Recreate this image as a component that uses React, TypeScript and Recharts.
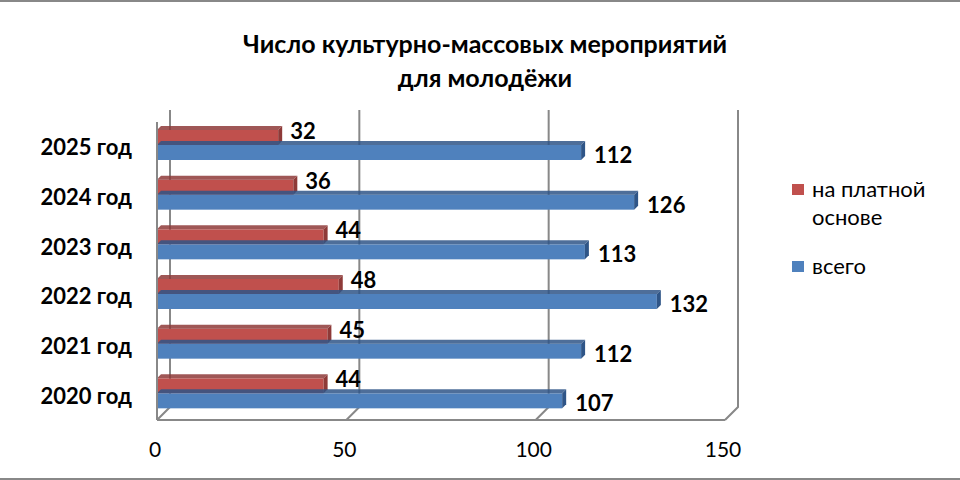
import React from "react";
import { BarChart, Bar, XAxis, YAxis, CartesianGrid, Legend, LabelList } from "recharts";

const categories = ["2025 год", "2024 год", "2023 год", "2022 год", "2021 год", "2020 год"];
const paidValues = [32, 36, 44, 48, 45, 44];
const totalValues = [112, 126, 113, 132, 112, 107];
const xTicks = [0, 50, 100, 150];
const seriesNames = ["на платной основе", "всего"];

const data = categories.map((c, i) => ({ name: c, paid: paidValues[i], total: totalValues[i] }));

const FONT = "Lato, 'Open Sans', sans-serif";
const RED = "#C0504D";
const RED_DARK = "#8E3A38";
const BLUE = "#4F81BD";
const BLUE_DARK = "#2F5587";
const LIFT = 2;

const makeShape = (fill: string, dark: string) => (props: any) => {
  const { x, width, height } = props;
  const y = props.y - LIFT;
  const d = 4;
  return (
    <g>
      <rect x={x} y={y} width={width} height={height} fill={fill} />
      <polygon
        points={`${x},${y} ${x + d},${y - d} ${x + width + d},${y - d} ${x + width},${y}`}
        fill={dark}
        opacity={0.85}
      />
      <polygon
        points={`${x + width},${y} ${x + width + d},${y - d} ${x + width + d},${y + height - d} ${x + width},${y + height}`}
        fill={dark}
      />
    </g>
  );
};

const GridLine = (props: any) => {
  const { x1, y1, y2 } = props;
  const dx = 13;
  const dy = 13;
  return (
    <polyline
      key={props.key ?? `g-${x1}`}
      points={`${x1 + dx},${y1 - 12} ${x1 + dx},${y2 - dy} ${x1},${y2}`}
      fill="none"
      stroke="#888"
      strokeWidth={2}
    />
  );
};

const YTick = (props: any) => {
  const { y, payload } = props;
  return (
    <text x={132} y={y} textAnchor="end" dominantBaseline="central" fontFamily={FONT} fontWeight={700} fontSize={22} fill="#000">
      {payload.value}
    </text>
  );
};

const XTick = (props: any) => {
  const { x, y, payload } = props;
  return (
    <text x={x - 2} y={y + 20} textAnchor="middle" dominantBaseline="central" fontFamily={FONT} fontSize={21} fill="#000">
      {payload.value}
    </text>
  );
};

const PaidLabel = (props: any) => {
  const { x, y, width, height, value } = props;
  return (
    <text x={x + width + 12} y={y - LIFT + height / 2 - 7} dominantBaseline="central" fontFamily={FONT} fontWeight={700} fontSize={22} fill="#000">
      {value}
    </text>
  );
};

const TotalLabel = (props: any) => {
  const { x, y, width, height, value } = props;
  return (
    <text x={x + width + 13} y={y - LIFT + height / 2 + 2} dominantBaseline="central" fontFamily={FONT} fontWeight={700} fontSize={22} fill="#000">
      {value}
    </text>
  );
};

const LegendContent = (props: any) => {
  const { payload } = props;
  const items = [...(payload || [])]
    .filter((p: any) => p.value)
    .sort((a: any, b: any) => seriesNames.indexOf(a.value) - seriesNames.indexOf(b.value));
  return (
    <div style={{ fontFamily: FONT, fontSize: 22, color: "#000", lineHeight: "28px" }}>
      {items.map((p: any, i: number) => (
        <div key={i} style={{ display: "flex", alignItems: "flex-start", marginBottom: 21 }}>
          <div style={{ width: 12, height: 11, background: p.color, marginTop: 9.5, marginRight: 8, flexShrink: 0 }} />
          <div style={{ width: 130 }}>{p.value}</div>
        </div>
      ))}
    </div>
  );
};

export default function App() {
  return (
    <div
      style={{
        position: "fixed",
        left: 0,
        top: 0,
        width: 960,
        height: 480,
        background: "#fff",
        boxSizing: "border-box",
        borderTop: "2px solid #888",
        borderBottom: "2px solid #888",
      }}
    >
      <div
        style={{
          position: "absolute",
          left: 0,
          top: 24,
          width: 970,
          textAlign: "center",
          fontFamily: FONT,
          fontWeight: 700,
          fontSize: 25,
          lineHeight: "34px",
          color: "#000",
        }}
      >
        Число культурно-массовых мероприятий
        <br />
        для молодёжи
      </div>
      <div style={{ position: "absolute", left: 0, top: -2 }}>
        <BarChart
          width={960}
          height={480}
          data={data}
          layout="vertical"
          margin={{ top: 122, right: 235, bottom: 0, left: 0 }}
          barGap={0}
          barSize={15}
        >
          <CartesianGrid horizontal={false} vertical={GridLine as any} />
          <XAxis
            type="number"
            domain={[0, 150]}
            ticks={xTicks}
            height={60}
            tick={XTick}
            tickLine={false}
            axisLine={{ stroke: "#888", strokeWidth: 2 }}
          />
          <YAxis
            type="category"
            dataKey="name"
            width={157}
            tick={YTick}
            tickLine={false}
            axisLine={{ stroke: "#888", strokeWidth: 2 }}
          />
          <Legend
            layout="horizontal"
            align="center"
            verticalAlign="middle"
            content={LegendContent}
            wrapperStyle={{ position: "absolute", left: 792, top: 174.5, width: 165 }}
          />
          <Bar dataKey="paid" name={seriesNames[0]} fill={RED} shape={makeShape(RED, RED_DARK)} isAnimationActive={false}>
            <LabelList dataKey="paid" content={PaidLabel} />
          </Bar>
          <Bar dataKey="total" name={seriesNames[1]} fill={BLUE} shape={makeShape(BLUE, BLUE_DARK)} isAnimationActive={false}>
            <LabelList dataKey="total" content={TotalLabel} />
          </Bar>
        </BarChart>
      </div>
    </div>
  );
}
